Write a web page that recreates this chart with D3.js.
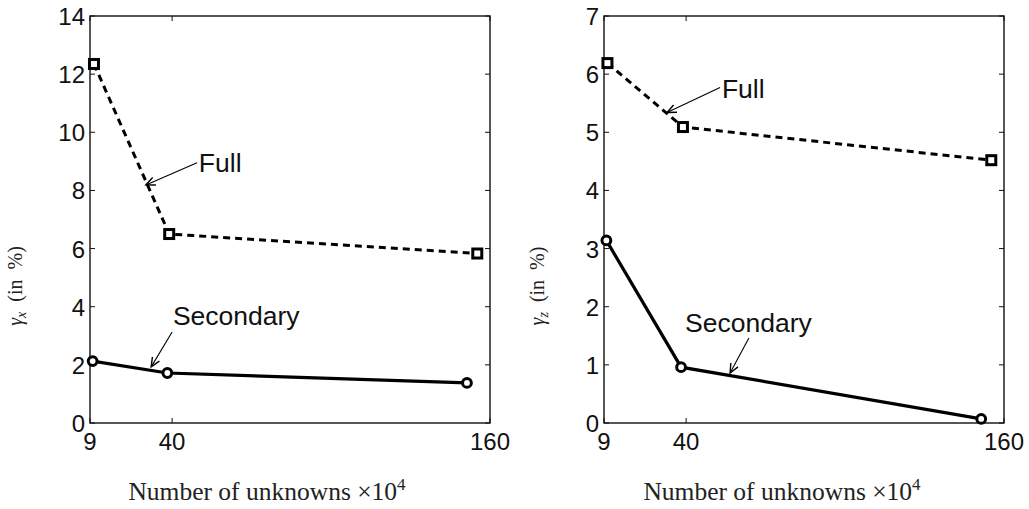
<!DOCTYPE html>
<html>
<head>
<meta charset="utf-8">
<script src="https://cdn.jsdelivr.net/npm/d3@7"></script>
<style>
  html, body { margin: 0; padding: 0; background: #fff; }
  svg { display: block; }
</style>
</head>
<body>
<svg id="chart" width="1029" height="509"></svg>
<script>
// Grid sizes (number of unknowns, in units of 10^4)
const xTicks = [9, 40, 160];

// Left panel: gamma_x (in %)
const leftFullX = [10.5, 38.9, 155.2];
const leftFullY = [12.35, 6.5, 5.83];
const leftSecX = [10.0, 38.2, 151.3];
const leftSecY = [2.13, 1.72, 1.38];
const leftYTicks = [0, 2, 4, 6, 8, 10, 12, 14];

// Right panel: gamma_z (in %)
const rightFullX = [10.3, 38.8, 155.2];
const rightFullY = [6.19, 5.09, 4.52];
const rightSecX = [9.9, 38.1, 151.4];
const rightSecY = [3.14, 0.96, 0.07];
const rightYTicks = [0, 1, 2, 3, 4, 5, 6, 7];

// Annotation labels with arrows (data coordinates)
const leftNotes = [
  { text: "Full", tx: 50.1, ty: 8.64, from: [49.4, 8.95], to: [30.1, 8.19] },
  { text: "Secondary", tx: 40.3, ty: 3.37, from: [40.0, 3.13], to: [32.1, 1.93] }
];
const rightNotes = [
  { text: "Full", tx: 53.5, ty: 5.59, from: [52.8, 5.77], to: [32.8, 5.34] },
  { text: "Secondary", tx: 39.6, ty: 1.57, from: [63.7, 1.46], to: [56.6, 0.86] }
];

const svg = d3.select("#chart");
const sans = "'Liberation Sans', Arial, Helvetica, sans-serif";
const serif = "'Liberation Serif', 'Times New Roman', serif";

function panel(cfg) {
  const x = d3.scaleLinear().domain([9, 160]).range([cfg.x0, cfg.x1]);
  const y = d3.scaleLinear().domain([0, cfg.yMax]).range([423, 16]);
  const g = svg.append("g");

  // Frame
  g.append("rect")
    .attr("x", cfg.x0).attr("y", 16)
    .attr("width", cfg.x1 - cfg.x0).attr("height", 423 - 16)
    .attr("fill", "none").attr("stroke", "#111").attr("stroke-width", 1.4);

  const tl = 5;
  // Y ticks (inside, both sides)
  cfg.yTicks.forEach(v => {
    const yy = y(v);
    g.append("line").attr("x1", cfg.x0).attr("x2", cfg.x0 + tl).attr("y1", yy).attr("y2", yy)
      .attr("stroke", "#111").attr("stroke-width", 1);
    g.append("line").attr("x1", cfg.x1).attr("x2", cfg.x1 - tl).attr("y1", yy).attr("y2", yy)
      .attr("stroke", "#111").attr("stroke-width", 1);
    g.append("text").attr("x", cfg.x0 - 5).attr("y", yy + 9)
      .attr("text-anchor", "end").attr("font-family", sans).attr("font-size", 24)
      .attr("fill", "#111").text(v);
  });
  // X ticks (inside, top and bottom)
  xTicks.forEach(v => {
    const xx = x(v);
    g.append("line").attr("x1", xx).attr("x2", xx).attr("y1", 423).attr("y2", 423 - tl)
      .attr("stroke", "#111").attr("stroke-width", 1);
    g.append("line").attr("x1", xx).attr("x2", xx).attr("y1", 16).attr("y2", 16 + tl)
      .attr("stroke", "#111").attr("stroke-width", 1);
    g.append("text").attr("x", xx).attr("y", 450)
      .attr("text-anchor", "middle").attr("font-family", sans).attr("font-size", 24)
      .attr("fill", "#111").text(v);
  });

  const line = d3.line().x(d => x(d[0])).y(d => y(d[1]));
  const full = d3.zip(cfg.fullX, cfg.fullY);
  const sec = d3.zip(cfg.secX, cfg.secY);

  g.append("path").datum(full).attr("d", line)
    .attr("fill", "none").attr("stroke", "#000").attr("stroke-width", 3)
    .attr("stroke-dasharray", "7,5");
  g.append("path").datum(sec).attr("d", line)
    .attr("fill", "none").attr("stroke", "#000").attr("stroke-width", 3.2);

  const s = 9;
  g.selectAll(".sq").data(full).enter().append("rect")
    .attr("x", d => x(d[0]) - s / 2).attr("y", d => y(d[1]) - s / 2)
    .attr("width", s).attr("height", s)
    .attr("fill", "#fff").attr("stroke", "#000").attr("stroke-width", 3);
  g.selectAll(".ci").data(sec).enter().append("circle")
    .attr("cx", d => x(d[0])).attr("cy", d => y(d[1])).attr("r", 4.4)
    .attr("fill", "#fff").attr("stroke", "#000").attr("stroke-width", 3);

  // Annotations
  cfg.notes.forEach(n => {
    const x1 = x(n.from[0]), y1 = y(n.from[1]);
    const x2 = x(n.to[0]), y2 = y(n.to[1]);
    g.append("line").attr("x1", x1).attr("y1", y1).attr("x2", x2).attr("y2", y2)
      .attr("stroke", "#000").attr("stroke-width", 1.1);
    const ang = Math.atan2(y2 - y1, x2 - x1);
    const L = 10, w = 0.42;
    const p = [
      [x2 - L * Math.cos(ang - w), y2 - L * Math.sin(ang - w)],
      [x2, y2],
      [x2 - L * Math.cos(ang + w), y2 - L * Math.sin(ang + w)]
    ];
    g.append("path").attr("d", d3.line()(p))
      .attr("fill", "none").attr("stroke", "#000").attr("stroke-width", 1.4);
    g.append("text").attr("x", x(n.tx)).attr("y", y(n.ty))
      .attr("font-family", sans).attr("font-size", 26.5).attr("fill", "#111").text(n.text);
  });

  // Axis labels
  const yl = g.append("text")
    .attr("transform", `translate(${cfg.ylx},${cfg.yly}) rotate(-90)`)
    .attr("text-anchor", "middle").attr("font-family", serif).attr("font-size", 20)
    .attr("fill", "#222");
  yl.append("tspan").attr("font-style", "italic").text("γ");
  yl.append("tspan").attr("font-style", "italic").attr("font-size", 14).attr("dy", 4).text(cfg.sub);
  yl.append("tspan").attr("dy", -4).attr("xml:space", "preserve").text("\u2002(in\u2002%)");

  const xl = g.append("text")
    .attr("x", cfg.xlx).attr("y", 500)
    .attr("text-anchor", "middle").attr("font-family", serif).attr("font-size", 25.5)
    .attr("fill", "#222");
  xl.append("tspan").text("Number of unknowns \u00d710");
  xl.append("tspan").attr("font-size", 17).attr("dy", -10).text("4");
}

panel({
  x0: 90, x1: 490, yMax: 14, yTicks: leftYTicks,
  fullX: leftFullX, fullY: leftFullY, secX: leftSecX, secY: leftSecY,
  notes: leftNotes, sub: "x", ylx: 22, yly: 286, xlx: 267
});
panel({
  x0: 604, x1: 1004, yMax: 7, yTicks: rightYTicks,
  fullX: rightFullX, fullY: rightFullY, secX: rightSecX, secY: rightSecY,
  notes: rightNotes, sub: "z", ylx: 544, yly: 286, xlx: 782
});
</script>
</body>
</html>
